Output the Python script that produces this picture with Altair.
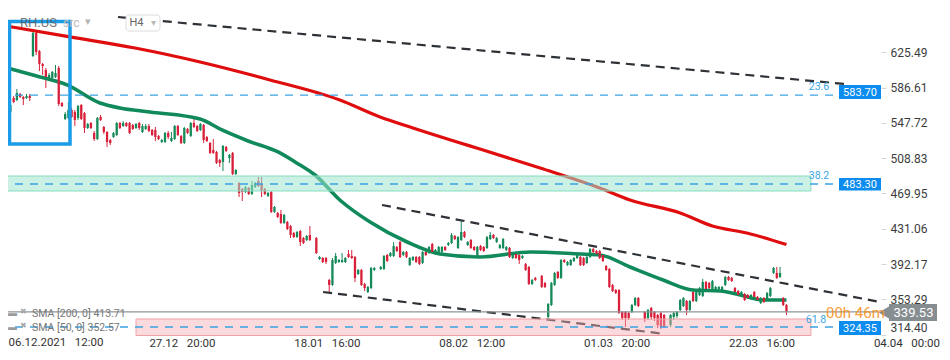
import altair as alt
import pandas as pd

# ---------------- candle data (H4 bars, price in USD) ----------------
bar_index = (list(range(0, 96)) + list(range(97, 116)) + list(range(117, 166))
             + list(range(167, 198)) + list(range(199, 206)) + list(range(207, 244)))

open_ = [
    537.7, 548.7, 559.7, 575.1, 572.9, 579.6, 576.2, 575.1, 577.3, 621.4,
    646.8, 626.9, 612.6, 606.0, 596.1, 597.2, 598.3, 608.2, 569.6, 552.0,
    553.1, 561.9, 559.7, 553.1, 567.4, 558.6, 542.1, 547.6, 536.6, 530.0,
    554.2, 543.2, 537.7, 528.9, 532.2, 534.4, 547.6, 544.3, 547.6, 547.6,
    545.4, 542.1, 547.6, 537.7, 541.0, 544.3, 539.9, 539.9, 533.3, 526.7,
    526.7, 536.6, 527.8, 530.0, 544.3, 533.3, 525.6, 541.0, 533.3, 547.6,
    544.3, 539.9, 545.4, 532.2, 525.6, 517.9, 515.7, 506.9, 504.7, 521.2,
    509.1, 514.6, 491.4, 481.5, 474.9, 471.6, 476.0, 469.4, 477.1, 483.7,
    480.4, 474.9, 467.2, 471.6, 449.6, 448.5, 447.4, 437.5, 438.6, 434.1,
    426.4, 422.0, 428.6, 420.9, 418.7, 424.2,
    420.9, 397.8, 398.9, 398.9, 374.7, 369.2, 393.4, 394.5, 394.5, 394.5,
    403.3, 401.1, 400.0, 381.3, 385.7, 370.3, 361.4, 365.8, 385.7,
    386.8, 386.8, 402.2, 401.1, 401.1, 411.0, 416.5, 402.2, 405.5, 391.2,
    396.7, 400.0, 400.0, 393.4, 405.5, 404.4, 414.3, 404.4, 403.3, 405.5,
    411.0, 413.2, 415.4, 423.1, 409.9, 418.7, 427.5, 413.2, 418.7, 411.0,
    400.0, 412.1, 411.0, 409.9, 419.8, 424.2, 416.5, 409.9, 409.9, 407.7,
    409.9, 398.9, 403.3, 402.2, 398.9, 392.3, 389.0, 370.3, 376.9,
    379.1, 371.4, 333.9, 347.1, 369.2, 383.5, 376.9, 396.7, 391.2, 391.2,
    395.6, 398.9, 400.0, 398.9, 393.4, 400.0, 408.8, 406.6, 406.6, 402.2,
    390.1, 386.8, 369.2, 363.6, 363.6, 339.4, 339.4, 338.3, 339.4, 347.1, 354.8,
    339.4, 332.8, 343.8, 339.4, 336.1, 338.3, 336.1,
    325.1, 333.9, 335.0, 341.6, 346.0, 351.5, 341.6, 361.4, 351.5, 358.1,
    357.0, 372.5, 371.4, 363.6, 363.6, 364.7, 363.6, 369.2, 378.0, 376.9,
    365.8, 362.5, 357.0, 359.2, 358.1, 353.7, 361.4, 355.9, 349.3, 354.8,
    352.6, 357.0, 382.4, 382.4, 378.0, 354.8, 347.1,
]
high_ = [
    548.7, 561.9, 569.6, 577.3, 585.1, 580.7, 577.3, 579.6, 579.6, 650.1,
    649.0, 628.0, 613.7, 608.2, 602.7, 604.9, 611.5, 610.4, 570.7, 559.7,
    570.7, 564.1, 561.9, 567.4, 568.5, 559.7, 547.6, 548.7, 538.8, 554.2,
    556.4, 544.3, 538.8, 530.0, 537.7, 548.7, 548.7, 549.8, 548.7, 548.7,
    546.5, 547.6, 548.7, 546.5, 546.5, 546.5, 541.0, 543.2, 534.4, 530.0,
    537.7, 538.8, 537.7, 545.4, 545.4, 534.4, 543.2, 542.1, 548.7, 552.0,
    545.4, 547.6, 546.5, 533.3, 526.7, 530.0, 516.8, 508.0, 523.4, 522.3,
    513.5, 515.7, 496.9, 482.6, 476.0, 478.2, 477.1, 483.7, 482.6, 488.1,
    488.1, 476.0, 471.6, 472.7, 456.2, 449.6, 451.8, 447.4, 439.7, 435.3,
    427.5, 428.6, 429.7, 422.0, 424.2, 434.1,
    422.0, 401.1, 400.0, 400.0, 375.8, 398.9, 404.4, 397.8, 404.4, 400.0,
    407.7, 407.7, 401.1, 386.8, 386.8, 371.4, 368.1, 389.0, 389.0,
    390.1, 402.2, 403.3, 405.5, 416.5, 412.1, 417.6, 406.6, 406.6, 400.0,
    401.1, 401.1, 401.1, 406.6, 406.6, 412.1, 415.4, 408.8, 412.1, 412.1,
    412.1, 416.5, 426.4, 424.2, 423.1, 439.7, 428.6, 417.6, 419.8, 412.1,
    412.1, 413.2, 412.1, 423.1, 427.5, 425.3, 422.0, 414.3, 420.9, 412.1,
    411.0, 403.3, 404.4, 403.3, 402.2, 393.4, 390.1, 375.8, 378.0,
    380.2, 372.5, 349.3, 372.5, 383.5, 384.6, 397.8, 397.8, 395.6, 397.8,
    400.0, 403.3, 401.1, 400.0, 401.1, 409.9, 409.9, 407.7, 407.7, 403.3,
    391.2, 387.9, 370.3, 364.7, 364.7, 340.5, 340.5, 339.4, 348.2, 355.9, 355.9,
    340.5, 342.7, 344.9, 340.5, 337.2, 339.4, 337.2,
    337.2, 339.4, 340.5, 353.7, 355.9, 352.6, 352.6, 362.5, 362.5, 366.9,
    375.8, 373.6, 372.5, 374.7, 368.1, 368.1, 368.1, 379.1, 379.1, 378.0,
    366.9, 363.6, 362.5, 360.3, 359.2, 359.2, 362.5, 357.0, 355.9, 355.9,
    361.4, 366.9, 389.0, 389.0, 389.0, 355.9, 348.2,
]
low_ = [
    535.5, 547.6, 558.6, 569.6, 571.8, 575.1, 567.4, 574.0, 571.8, 620.3,
    622.5, 604.9, 600.5, 586.2, 593.9, 595.0, 597.2, 566.3, 565.2, 550.9,
    552.0, 553.1, 544.3, 550.9, 550.9, 536.6, 541.0, 541.0, 527.8, 528.9,
    549.8, 535.5, 521.2, 523.4, 531.1, 533.3, 541.0, 543.2, 543.2, 535.5,
    539.9, 541.0, 539.9, 536.6, 539.9, 537.7, 533.3, 527.8, 528.9, 525.6,
    525.6, 530.0, 526.7, 528.9, 533.3, 524.5, 524.5, 535.5, 532.2, 542.1,
    537.7, 538.8, 525.6, 526.7, 513.5, 513.5, 502.5, 499.1, 494.7, 515.7,
    503.6, 490.3, 490.3, 466.1, 461.7, 470.5, 468.3, 468.3, 476.0, 477.1,
    466.1, 468.3, 466.1, 448.5, 448.5, 443.0, 436.4, 436.4, 429.7, 420.9,
    420.9, 420.9, 412.1, 414.3, 417.6, 417.6,
    403.3, 396.7, 393.4, 392.3, 360.3, 368.1, 392.3, 393.4, 393.4, 393.4,
    398.9, 397.8, 372.5, 380.2, 368.1, 362.5, 360.3, 364.7, 384.6,
    385.7, 385.7, 394.5, 400.0, 400.0, 405.5, 398.9, 401.1, 398.9, 390.1,
    395.6, 393.4, 391.2, 392.3, 401.1, 403.3, 404.4, 403.3, 402.2, 404.4,
    406.6, 412.1, 414.3, 418.7, 408.8, 417.6, 420.9, 412.1, 408.8, 406.6,
    398.9, 406.6, 405.5, 408.8, 418.7, 419.8, 415.4, 408.8, 408.8, 406.6,
    398.9, 397.8, 397.8, 392.3, 397.8, 384.6, 369.2, 369.2, 373.6,
    365.8, 365.8, 332.8, 346.0, 368.1, 375.8, 375.8, 393.4, 390.1, 390.1,
    394.5, 397.8, 390.1, 390.1, 392.3, 398.9, 404.4, 402.2, 397.8, 394.5,
    384.6, 365.8, 361.4, 359.2, 337.2, 330.6, 322.9, 330.6, 338.3, 346.0, 344.9,
    328.4, 330.6, 330.6, 329.5, 321.8, 320.7, 321.8,
    322.9, 330.6, 332.8, 340.5, 344.9, 336.1, 340.5, 350.4, 350.4, 357.0,
    355.9, 363.6, 364.7, 362.5, 362.5, 363.6, 362.5, 368.1, 373.6, 372.5,
    360.3, 357.0, 355.9, 351.5, 353.7, 352.6, 354.8, 351.5, 348.2, 349.3,
    351.5, 355.9, 381.3, 375.8, 376.9, 346.0, 336.1,
]
close_ = [
    546.5, 560.8, 567.4, 570.7, 580.7, 576.2, 574.0, 577.3, 575.1, 646.8,
    625.8, 612.6, 610.4, 598.3, 600.5, 603.8, 602.7, 568.5, 566.3, 557.5,
    561.9, 554.2, 550.9, 566.3, 552.0, 542.1, 546.5, 542.1, 530.0, 553.1,
    550.9, 537.7, 526.7, 525.6, 536.6, 547.6, 542.1, 547.6, 544.3, 536.6,
    541.0, 546.5, 542.1, 544.3, 544.3, 538.8, 534.4, 532.2, 530.0, 528.9,
    536.6, 532.2, 531.1, 544.3, 534.4, 525.6, 542.1, 536.6, 547.6, 543.2,
    538.8, 546.5, 528.9, 527.8, 514.6, 514.6, 503.6, 503.6, 522.3, 516.8,
    512.4, 491.4, 495.8, 470.5, 471.6, 477.1, 469.4, 479.3, 481.5, 478.2,
    472.7, 469.4, 470.5, 449.6, 455.1, 444.1, 437.5, 446.3, 430.8, 424.2,
    422.0, 427.5, 416.5, 415.4, 423.1, 418.7,
    404.4, 400.0, 394.5, 394.5, 369.2, 396.7, 401.1, 396.7, 396.7, 398.9,
    400.0, 398.9, 376.9, 385.7, 369.2, 365.8, 366.9, 387.9, 387.9,
    389.0, 401.1, 395.6, 404.4, 412.1, 406.6, 400.0, 405.5, 400.0, 398.9,
    400.0, 394.5, 392.3, 405.5, 402.2, 411.0, 405.5, 407.7, 411.0, 411.0,
    407.7, 415.4, 424.2, 419.8, 422.0, 427.5, 422.0, 416.5, 409.9, 407.7,
    411.0, 407.7, 406.6, 422.0, 424.2, 420.9, 420.9, 413.2, 419.8, 411.0,
    400.0, 402.2, 398.9, 396.7, 401.1, 385.7, 370.3, 374.7, 374.7,
    367.0, 367.0, 348.2, 371.4, 382.4, 376.9, 396.7, 394.5, 394.5, 396.7,
    398.9, 402.2, 391.2, 391.2, 400.0, 408.8, 405.5, 403.3, 398.9, 395.6,
    385.7, 366.9, 362.5, 360.3, 338.3, 332.8, 332.8, 332.8, 347.1, 354.8, 346.0,
    331.7, 341.6, 333.9, 332.8, 325.1, 322.9, 322.9,
    336.1, 338.3, 339.4, 352.6, 354.8, 341.6, 351.5, 351.5, 361.4, 365.8,
    372.5, 364.7, 365.8, 373.6, 366.9, 366.9, 366.9, 378.0, 374.7, 373.6,
    361.4, 358.1, 361.4, 352.6, 354.8, 358.1, 355.9, 352.6, 354.8, 350.4,
    360.3, 365.8, 387.9, 376.9, 382.4, 347.1, 339.53,
]

# ---------------- indicators ----------------
sma200_index = [-1.2, 20.5, 40.7, 60.9, 82.6, 104.3, 116.8, 127.0, 140.7, 147.8,
                166.5, 185.0, 194.4, 210.0, 220.0, 230.7, 243.0]
sma200_value = [655.6, 642.4, 630.2, 614.8, 595.0, 572.9, 554.2, 542.1, 526.7, 519.0,
                498.0, 476.0, 462.8, 448.5, 434.1, 426.4, 413.71]
sma50_index = [-1.2, 9.0, 19.6, 29.8, 36.0, 45.3, 60.9, 67.7, 75.8, 85.1, 90.4, 96.6,
               104.3, 113.7, 125.2, 135.4, 147.8, 163.4, 178.9, 185.1, 194.4, 204.7,
               214.0, 222.4, 228.6, 235.7, 243.0]
sma50_value = [610.4, 600.5, 589.5, 569.6, 564.1, 559.7, 552.0, 539.9, 527.8, 515.7, 504.7, 490.3,
               462.8, 438.5, 416.5, 403.3, 400.0, 405.5, 403.3, 402.2, 389.0, 374.7,
               363.6, 362.5, 358.1, 352.6, 352.57]

# trend lines (bar index, price)
trend_top_index, trend_top_price = [35.4, 261.2], [664.4, 590.6]
trend_mid_index, trend_mid_price = [117.4, 272.0], [457.3, 350.4]
trend_low_index, trend_low_price = [99.1, 205.3], [361.4, 315.2]

# fibonacci levels
fib_names = ["23.6", "38.2", "61.8"]
fib_labels = ["583.70", "483.30", "324.35"]
fib_line_price = [578.3, 480.4, 322.9]
zone_382 = [472.7, 489.2]
zone_618 = [313.5, 331.7]
last_price = 339.53

x_tick_index = [0, 45, 90, 135, 180, 225, 270]
x_tick_label = ["06.12.2021\u00a0\u00a0\u00a012:00", "27.12\u00a0\u00a0\u00a020:00",
                "18.01\u00a0\u00a0\u00a016:00", "08.02\u00a0\u00a0\u00a012:00",
                "01.03\u00a0\u00a0\u00a020:00", "22.03\u00a0\u00a0\u00a016:00",
                "04.04\u00a0\u00a0\u00a000:00"]
y_tick_values = [314.40, 353.29, 392.17, 431.06, 469.95, 508.83, 547.72, 586.61, 625.49]

# ---------------- chart ----------------
GREEN = "#158a59"
RED = "#d8203a"
W, H = 881, 336
xs = alt.Scale(domain=[-1.24, 272.36], nice=False, zero=False)
ys = alt.Scale(domain=[312.96, 683.1], nice=False, zero=False)

candles = pd.DataFrame({"i": bar_index, "open": open_, "high": high_, "low": low_, "close": close_})
candles["dir"] = ["up" if c >= o else "down" for o, c in zip(open_, close_)]
col = alt.Color("dir:N", scale=alt.Scale(domain=["up", "down"], range=[GREEN, RED]), legend=None)

# the first tick label sits at the very left edge; it is drawn as a text mark below
label_expr = " : ".join(f"datum.value == {v} ? '{t}'"
                        for v, t in zip(x_tick_index[1:], x_tick_label[1:])) + " : ''"

x_axis = alt.Axis(values=x_tick_index, labelExpr=label_expr, labelAlign="left", labelBaseline="top",
                  labelPadding=1, ticks=False, tickSize=0, domain=False, grid=False, title=None,
                  labelFontSize=11.5, labelColor="#333333", labelOverlap=False, labelFont="Roboto",
                  labelFlush=False, labelBound=False)
y_axis = alt.Axis(values=y_tick_values, format=".2f", orient="right", domain=False, grid=False,
                  tickColor="#d6d6d6", tickSize=5, labelPadding=4, title=None, labelFontSize=12,
                  labelColor="#3d3d3d", labelOverlap=False, labelFlush=3, labelFont="Roboto")

XQ = lambda f: alt.X(f, scale=xs, axis=x_axis)
YQ = lambda f: alt.Y(f, scale=ys, axis=y_axis)

base = alt.Chart(candles)
wicks = base.mark_rule(strokeWidth=1).encode(x=XQ("i:Q"), y=YQ("low:Q"), y2="high:Q", color=col)
bodies = base.mark_rule(strokeWidth=2.3).encode(x=XQ("i:Q"), y=YQ("open:Q"), y2="close:Q", color=col)


def series_line(idx, val, **kw):
    df = pd.DataFrame({"i": idx, "p": val})
    return alt.Chart(df).mark_line(**kw).encode(x=XQ("i:Q"), y=YQ("p:Q"))


sma200 = series_line(sma200_index, sma200_value, interpolate="monotone", strokeWidth=3.2, color="#df0d0d")
sma50 = series_line(sma50_index, sma50_value, interpolate="monotone", strokeWidth=3.6, color="#108a5b")

dash_kw = dict(strokeWidth=2.2, strokeDash=[9, 6], color="#2e3237")
t_top = series_line(trend_top_index, trend_top_price, **dash_kw)
t_mid = series_line(trend_mid_index, trend_mid_price, **dash_kw)
t_low = series_line(trend_low_index, trend_low_price, **dash_kw)


def zone(i0, i1, p0, p1, fill, stroke, op):
    df = pd.DataFrame({"i": [i0], "i1": [i1], "p": [p0], "p1": [p1]})
    return alt.Chart(df).mark_rect(fill=fill, stroke=stroke, strokeWidth=1, fillOpacity=op).encode(
        x=XQ("i:Q"), x2="i1:Q", y=YQ("p:Q"), y2="p1:Q")


z382 = zone(0, 250.6, zone_382[0], zone_382[1], "#9fe6cd", "#86dcc0", 0.55)
z618 = zone(41, 250.6, zone_618[0], zone_618[1], "#f4aeb3", "#f2a0a6", 0.45)

fib_lines = [series_line([-1.24, 259.0], [p, p], strokeWidth=1.3, strokeDash=[8, 7], color="#3aa3e3")
             for p in fib_line_price]
price_line = series_line([-1.24, 271.4], [last_price, last_price], strokeWidth=1.2, color="#8d9599")

dummy = pd.DataFrame({"k": [0]})


def txt(s, x, y, **kw):
    return alt.Chart(dummy).mark_text(text=s, font="Roboto", **kw).encode(x=alt.value(x), y=alt.value(y))


def box(x0, x1, y0, y1, **kw):
    return alt.Chart(dummy).mark_rect(**kw).encode(
        x=alt.value(x0), x2=alt.value(x1), y=alt.value(y0), y2=alt.value(y1))


annot = []
# first x-axis label (kept inside the visible page area)
annot.append(txt(x_tick_label[0], 8.5, H + 1, align="left", baseline="top", fontSize=11.5, color="#333333"))
# selection rectangle
annot.append(box(9.5, 70, 21.5, 144, filled=False, stroke="#1b9ce8", strokeWidth=3.5))
# symbol / timeframe header
annot.append(txt("RH.US", 20, 22.5, align="left", baseline="middle", fontSize=13, color="#555555", opacity=0.8))
annot.append(txt("src", 63, 23, align="left", baseline="middle", fontSize=12, color="#bbbbbb"))
annot.append(txt("▾", 88, 22, align="center", baseline="middle", fontSize=11, color="#b5b5b5"))
annot.append(box(126, 160, 15, 31, fill="white", stroke="#dcdcdc", strokeWidth=1, cornerRadius=3))
annot.append(txt("H4", 136.5, 23, align="center", baseline="middle", fontSize=11, color="#666666"))
annot.append(txt("▾", 153, 23, align="center", baseline="middle", fontSize=10, color="#bbbbbb"))
# fib tags and price boxes
fib_tag_pos = [(819, 86.5), (819, 175.5), (816, 319.5)]
fib_box_y = [(85, 99), (178, 190.5), (321, 335)]
for name, lab, (tx, ty), (b0, b1) in zip(fib_names, fib_labels, fib_tag_pos, fib_box_y):
    annot.append(txt(name, tx, ty, align="center", baseline="middle", fontSize=10.5, color="#3aa6e6"))
    annot.append(box(839, 881, b0, b1, fill="#0b8cee"))
    annot.append(txt(lab, 860, (b0 + b1) / 2 + 0.5, align="center", baseline="middle", fontSize=11, color="white"))
# last price tag
annot.append(alt.Chart(dummy).mark_point(shape="triangle-left", filled=True, size=289, color="#878e92",
                                         opacity=1).encode(x=alt.value(886), y=alt.value(312.5)))
annot.append(box(889, 937, 304, 321, fill="#878e92"))
annot.append(txt(f"{last_price:.2f}", 913.5, 313, align="center", baseline="middle", fontSize=13, color="white"))
annot.append(txt("00h 46m", 826, 312.5, align="left", baseline="middle", fontSize=15, color="#f7931e", opacity=0.9))
# indicator legend
for yy, lab in [(312.5, "SMA [200, 0] 413.71"), (326.5, "SMA [50, 0] 352.57")]:
    annot.append(txt("▬", 12.5, yy, align="center", baseline="middle", fontSize=9, color="#9a9a9a"))
    annot.append(txt("✖", 23.5, yy - 0.5, align="center", baseline="middle", fontSize=8, color="#a8a8a8"))
    annot.append(txt(lab, 32, yy + 1, align="left", baseline="middle", fontSize=10.5, color="#777777"))

chart = alt.layer(
    wicks, sma200, sma50, bodies, t_top, t_mid, t_low, z382, z618, *fib_lines, price_line, *annot
).properties(
    width=W, height=H,
    autosize=alt.AutoSizeParams(type="none"),
    padding={"left": -8, "top": -8, "right": 61, "bottom": 16},
).configure(font="Roboto", background="white").configure_view(strokeWidth=0)

chart.save("out.html", embed_options={"renderer": "svg", "actions": False})
